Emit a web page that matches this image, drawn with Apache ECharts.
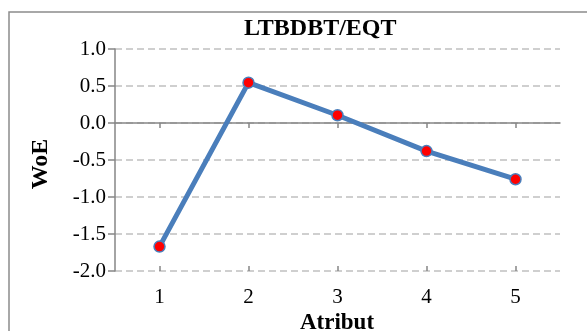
<!DOCTYPE html>
<html><head><meta charset="utf-8">
<script src="https://cdn.jsdelivr.net/npm/echarts@6/dist/echarts.min.js"></script>
<style>html,body{margin:0;padding:0;background:#fff}#c{width:587px;height:331px}</style>
</head><body><div id="c"></div>
<script>
const categories = ['1', '2', '3', '4', '5'];
const woe = [-1.67, 0.545, 0.105, -0.38, -0.76];
const yTicks = [-2.0, -1.5, -1.0, -0.5, 0.0, 0.5, 1.0];
const titleText = 'LTBDBT/EQT';
const xName = 'Atribut';
const yName = 'WoE';

const chart = echarts.init(document.getElementById('c'), null, {renderer: 'canvas'});
const serif = '"Liberation Serif", "Times New Roman", serif';
const gray = '#868686';
chart.setOption({
  animation: false,
  backgroundColor: '#fff',
  title: {
    text: titleText, left: 244, top: 17, padding: 0,
    textStyle: {fontFamily: serif, fontWeight: 'bold', fontSize: 24, color: '#000'}
  },
  graphic: [
    {type: 'rect', shape: {x: 9, y: 12, width: 620, height: 400}, style: {fill: 'none', stroke: '#8c8c8c', lineWidth: 1.5}, z: -1},
    {type: 'text', x: 41, y: 164, rotation: Math.PI / 2, style: {text: yName, fontFamily: serif, fontWeight: 'bold', fontSize: 24, fill: '#000', align: 'center', verticalAlign: 'middle'}},
    {type: 'text', x: 337, y: 323, style: {text: xName, fontFamily: serif, fontWeight: 'bold', fontSize: 23, fill: '#000', align: 'center', verticalAlign: 'middle'}}
  ],
  grid: {left: 115, top: 49, width: 445, height: 222, containLabel: false},
  xAxis: [
    {type: 'category', data: categories, boundaryGap: true, position: 'bottom',
     axisLine: {show: false, onZero: false}, axisTick: {show: false},
     axisLabel: {fontFamily: serif, fontSize: 21, color: '#000', margin: 16}},
    {type: 'category', data: categories, boundaryGap: true, position: 'bottom',
     axisLine: {show: true, onZero: true, lineStyle: {color: gray, width: 1.5}},
     axisTick: {show: true, alignWithLabel: true, length: 5, lineStyle: {color: gray, width: 1.5}},
     axisLabel: {show: false}},
    {type: 'category', data: categories, boundaryGap: true, position: 'bottom',
     axisLine: {show: false, onZero: true},
     axisTick: {show: true, inside: true, alignWithLabel: true, length: 5, lineStyle: {color: gray, width: 1.5}},
     axisLabel: {show: false}}
  ],
  yAxis: {
    type: 'value', min: yTicks[0], max: yTicks[yTicks.length - 1], interval: 0.5,
    axisLine: {show: true, lineStyle: {color: gray, width: 1.5}},
    axisTick: {show: true, length: 7, lineStyle: {color: gray, width: 1.5}},
    axisLabel: {fontFamily: serif, fontSize: 21, color: '#000', margin: 9, formatter: v => v.toFixed(1)},
    splitLine: {show: true, lineStyle: {color: '#c0c0c0', width: 1.5, type: [7, 4]}}
  },
  series: [{
    type: 'line', data: woe, xAxisIndex: 0,
    lineStyle: {color: '#4a7ebb', width: 5},
    symbol: 'circle', symbolSize: 11,
    itemStyle: {color: '#ff0000', borderColor: '#4a7ebb', borderWidth: 1.5},
    z: 5
  }]
});
</script></body></html>
